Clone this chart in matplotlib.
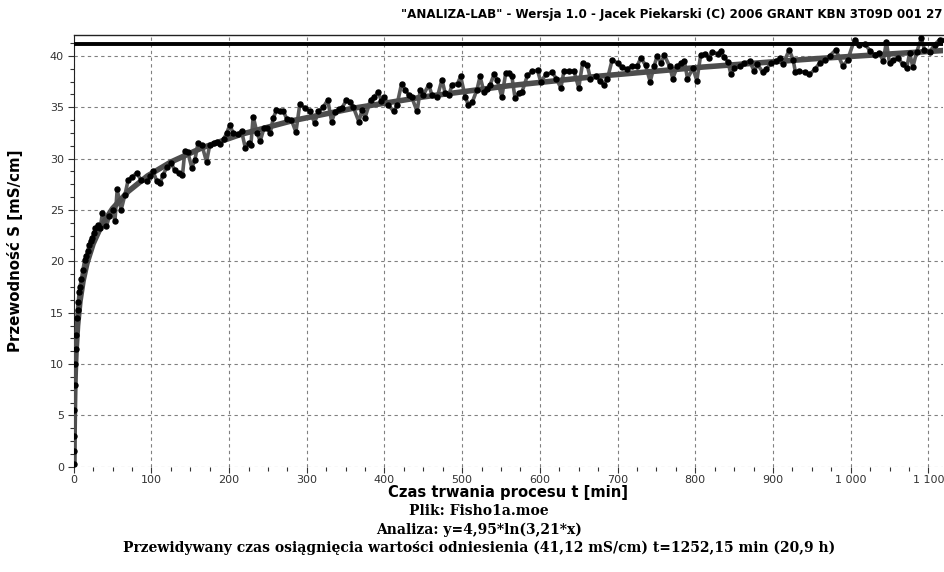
import matplotlib
matplotlib.use("Agg")
import matplotlib.pyplot as plt
from matplotlib.ticker import MultipleLocator

time_min = [
    0, 0.3, 0.6, 1, 1.5, 2, 2.5, 3, 4, 5, 6, 7, 8, 10, 12, 14, 16, 18, 20, 22,
    24, 26, 28, 31, 34, 37, 42, 46, 50, 53, 56, 61, 66, 70, 75, 81, 87, 94, 98,
    102, 107, 111, 115, 120, 125, 130, 135, 140, 143, 147, 152, 156, 160, 165,
    171, 175, 180, 184, 188, 193, 197, 201, 205, 212, 216, 221, 225, 228, 231,
    236, 240, 245, 249, 253, 257, 261, 266, 270, 274, 280, 286, 291, 298, 304,
    310, 315, 321, 327, 332, 336, 341, 345, 351, 356, 360, 367, 371, 375, 382,
    387, 392, 396, 400, 405, 412, 416, 422, 427, 431, 435, 442, 446, 450, 457,
    461, 468, 474, 478, 483, 487, 494, 498, 504, 508, 513, 519, 523, 528, 532,
    536, 541, 545, 551, 556, 560, 564, 568, 573, 577, 584, 590, 597, 601, 608,
    616, 621, 627, 631, 638, 644, 650, 655, 661, 665, 672, 677, 682, 687, 693,
    700, 706, 712, 718, 725, 730, 736, 742, 747, 751, 756, 760, 767, 771, 777,
    782, 786, 790, 797, 802, 807, 813, 818, 822, 829, 833, 837, 842, 846, 850,
    857, 863, 870, 876, 880, 887, 891, 898, 904, 909, 913, 921, 926, 929, 934,
    941, 947, 954, 960, 967, 973, 981, 990, 996, 1005, 1011, 1018, 1025, 1031,
    1037, 1042, 1046, 1050, 1055, 1061, 1067, 1072, 1076, 1080, 1085, 1091,
    1095, 1102, 1108, 1115, 1121,
]
conductivity = [
    0.3, 1.5, 3.0, 5.5, 8.0, 10.0, 11.5, 12.8, 14.5, 15.3, 16.0, 17.0, 17.5,
    18.3, 19.2, 20.1, 20.5, 21.0, 21.6, 22.0, 22.3, 22.8, 23.2, 23.5, 23.2,
    24.7, 23.4, 24.4, 25.0, 23.9, 27.0, 25.0, 26.5, 27.9, 28.2, 28.6, 27.9,
    27.8, 28.3, 28.8, 27.8, 27.6, 28.4, 29.2, 29.6, 28.9, 28.6, 28.4, 30.7,
    30.6, 29.1, 29.9, 31.5, 31.3, 29.7, 31.3, 31.5, 31.6, 31.4, 31.9, 32.5,
    33.3, 32.5, 32.4, 32.7, 31.0, 31.5, 31.3, 34.1, 32.5, 31.7, 33.0, 33.0,
    32.5, 34.0, 34.7, 34.6, 34.6, 33.9, 33.8, 32.6, 35.3, 34.9, 34.6, 33.5,
    34.6, 35.0, 35.7, 33.6, 34.5, 34.8, 34.9, 35.7, 35.5, 35.0, 33.6, 34.7,
    34.0, 35.7, 36.0, 36.5, 35.6, 36.0, 35.2, 34.6, 35.2, 37.3, 36.7, 36.2,
    36.0, 34.6, 36.7, 36.2, 37.2, 36.2, 36.0, 37.7, 36.4, 36.2, 37.2, 37.3,
    38.0, 36.0, 35.2, 35.5, 36.7, 38.0, 36.5, 36.8, 37.2, 38.2, 37.7, 36.0,
    38.3, 38.3, 38.0, 35.9, 36.4, 36.5, 38.1, 38.5, 38.6, 37.5, 38.2, 38.4,
    37.8, 36.9, 38.5, 38.5, 38.5, 36.9, 39.3, 39.1, 37.8, 38.0, 37.6, 37.2,
    37.8, 39.6, 39.3, 38.9, 38.7, 39.0, 39.0, 39.8, 39.1, 37.5, 39.0, 40.0,
    39.3, 40.1, 39.0, 37.8, 39.0, 39.3, 39.5, 37.8, 38.8, 37.6, 40.1, 40.2,
    39.8, 40.4, 40.2, 40.5, 39.9, 39.4, 38.2, 38.8, 39.0, 39.3, 39.5, 38.5,
    39.2, 38.4, 38.7, 39.3, 39.5, 39.8, 39.2, 40.6, 39.6, 38.4, 38.5, 38.4,
    38.2, 38.7, 39.3, 39.6, 40.0, 40.6, 39.0, 39.6, 41.6, 41.1, 41.2, 40.5,
    40.1, 40.3, 39.5, 41.4, 39.3, 39.6, 39.8, 39.2, 38.8, 40.3, 38.9, 40.4,
    41.7, 40.6, 40.4, 41.1, 41.6, 41.6,
]

# fitted curve y=4,95*ln(3,21*x)
fit_time = [0.32, 0.35, 0.5, 0.7, 1, 1.4, 2, 3, 5, 8, 12, 17, 25, 35, 50, 70,
            95, 125, 165, 215, 280, 360, 450, 560, 680, 810, 950, 1120]
fit_value = [0.0, 0.58, 2.34, 4.01, 5.77, 7.44, 9.20, 11.21, 13.74, 16.07,
             18.07, 19.80, 21.71, 23.37, 25.14, 26.80, 28.32, 29.67, 31.05,
             32.36, 33.67, 34.91, 36.01, 37.10, 38.06, 38.92, 39.71, 40.53]

reference_value = 41.12

x_ticks = [0, 100, 200, 300, 400, 500, 600, 700, 800, 900, 1000, 1100]
x_tick_labels = ["0", "100", "200", "300", "400", "500", "600", "700", "800",
                 "900", "1 000", "1 100"]
y_ticks = [0, 5, 10, 15, 20, 25, 30, 35, 40]

title = '"ANALIZA-LAB" - Wersja 1.0 - Jacek Piekarski (C) 2006 GRANT KBN 3T09D 001 27'
footer = [
    "Plik: Fisho1a.moe",
    "Analiza: y=4,95*ln(3,21*x)",
    "Przewidywany czas osiągnięcia wartości odniesienia (41,12 mS/cm) t=1252,15 min (20,9 h)",
]


def main() -> None:
    plt.rcParams["font.family"] = ["DejaVu Sans"]
    fig = plt.figure(figsize=(9.45, 5.72), dpi=100)
    ax = fig.add_axes([0.078, 0.184, 0.92, 0.755])

    ax.plot(time_min, conductivity, color="#5a5a5a", lw=2.6, zorder=2)
    ax.plot(fit_time, fit_value, color="#4d4d4d", lw=4, zorder=3,
            solid_capstyle="butt")
    ax.plot(time_min, conductivity, ls="none", marker="o", ms=3.6,
            color="black", zorder=4)
    ax.axhline(reference_value, color="black", lw=2.8, zorder=5)

    ax.set_xlim(0, 1119)
    ax.set_ylim(0, 42.05)
    ax.set_xticks(x_ticks)
    ax.set_xticklabels(x_tick_labels)
    ax.set_yticks(y_ticks)
    ax.xaxis.set_minor_locator(MultipleLocator(25))
    ax.yaxis.set_minor_locator(MultipleLocator(1.25))
    ax.tick_params(which="both", direction="out", length=4, width=0.8,
                   labelsize=8, colors="#333333", pad=3)
    ax.tick_params(axis="x", pad=2)
    ax.tick_params(which="minor", length=3)

    ax.grid(True, which="major", color="#808080", lw=0.8, ls=(0, (3, 3)))
    ax.set_axisbelow(True)
    for side in ("right", "bottom"):
        ax.spines[side].set_visible(False)
    ax.spines["left"].set_color("#222222")
    ax.spines["top"].set_color("#222222")
    ax.spines["top"].set_linewidth(1.0)

    ax.set_xlabel("Czas trwania procesu t [min]", fontsize=10.6,
                  fontweight="semibold", labelpad=0)
    ax.set_ylabel("Przewodność S [mS/cm]", fontsize=10.8,
                  fontweight="semibold", labelpad=19)

    fig.text(0.997, 0.975, title, ha="right", va="center", fontsize=8.6,
             fontweight="bold")
    for i, line in enumerate(footer):
        fig.text(0.507, 0.106 - i * 0.032, line, ha="center", va="center",
                 fontsize=10, fontweight="bold", family="DejaVu Serif")

    fig.savefig("out.png", dpi=100)
    plt.close(fig)


if __name__ == "__main__":
    main()
